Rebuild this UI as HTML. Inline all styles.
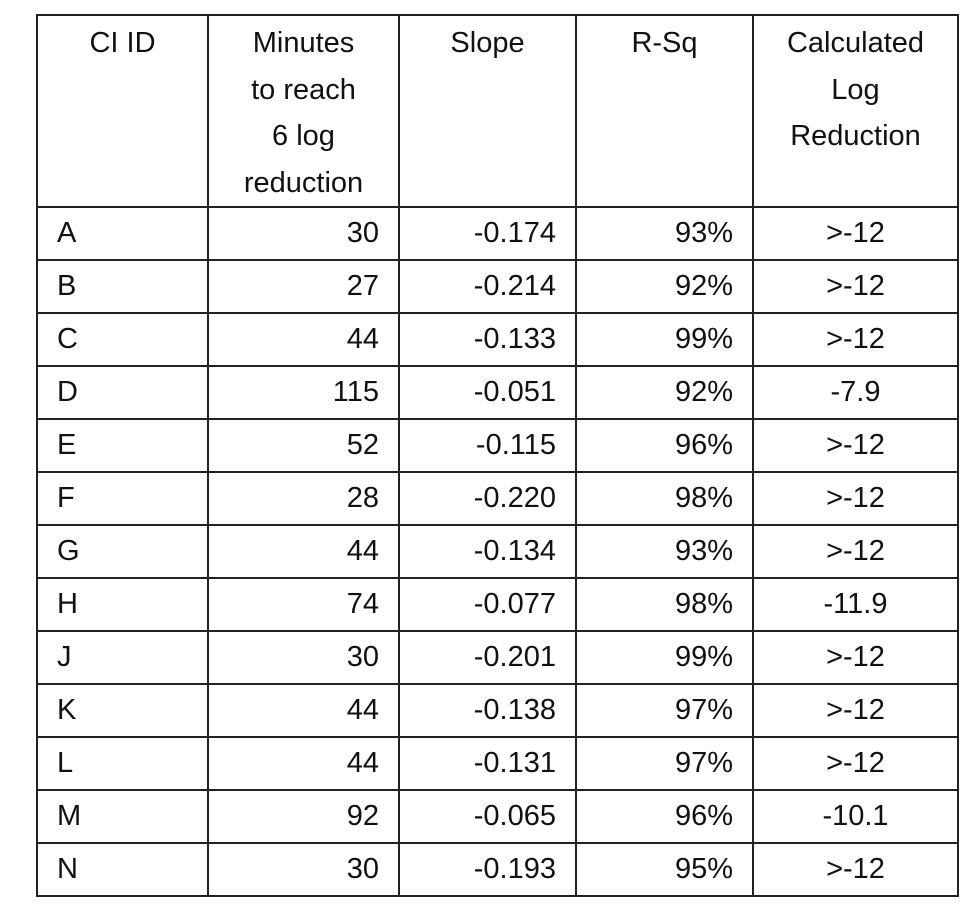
<!DOCTYPE html>
<html><head><meta charset="utf-8"><style>
html,body{margin:0;padding:0;background:#fff;width:980px;height:921px;overflow:hidden}
table{position:absolute;left:36px;top:14px;border-collapse:collapse;table-layout:fixed;font-family:"Liberation Sans",sans-serif;font-size:29px;color:#111}
td,th{border:2px solid #222;padding:0 19px;font-weight:normal;overflow:hidden;white-space:nowrap}
th{vertical-align:top;text-align:center;line-height:46.5px;padding-top:4px;height:185px}
tbody td{height:51px;line-height:51px}
.l{text-align:left}.r{text-align:right}.c{text-align:center}
</style></head><body>
<table>
<colgroup><col style="width:171px"><col style="width:191px"><col style="width:177px"><col style="width:177px"><col style="width:205px"></colgroup>
<thead><tr>
<th>CI ID</th>
<th>Minutes<br>to reach<br>6 log<br>reduction</th>
<th>Slope</th>
<th>R-Sq</th>
<th>Calculated<br>Log<br>Reduction</th>
</tr></thead>
<tbody id="tb"></tbody>
</table>
<script>
const ids=["A","B","C","D","E","F","G","H","J","K","L","M","N"];
const minutes=[30,27,44,115,52,28,44,74,30,44,44,92,30];
const slopes=["-0.174","-0.214","-0.133","-0.051","-0.115","-0.220","-0.134","-0.077","-0.201","-0.138","-0.131","-0.065","-0.193"];
const rsq=["93%","92%","99%","92%","96%","98%","93%","98%","99%","97%","97%","96%","95%"];
const logred=[">-12",">-12",">-12","-7.9",">-12",">-12",">-12","-11.9",">-12",">-12",">-12","-10.1",">-12"];
const tb=document.getElementById('tb');
ids.forEach((id,i)=>{
  const tr=document.createElement('tr');
  
  
  const vals=[[id,'l','ci-id'],[minutes[i],'r','minutes'],[slopes[i],'r','slope'],[rsq[i],'r','r-sq'],[logred[i],'c','log-reduction']];
  vals.forEach(v=>{
    const td=document.createElement('td');
    td.className=v[1];
    td.textContent=v[0];
    
    
    tr.appendChild(td);
  });
  tb.appendChild(tr);
});
</script>
</body></html>
